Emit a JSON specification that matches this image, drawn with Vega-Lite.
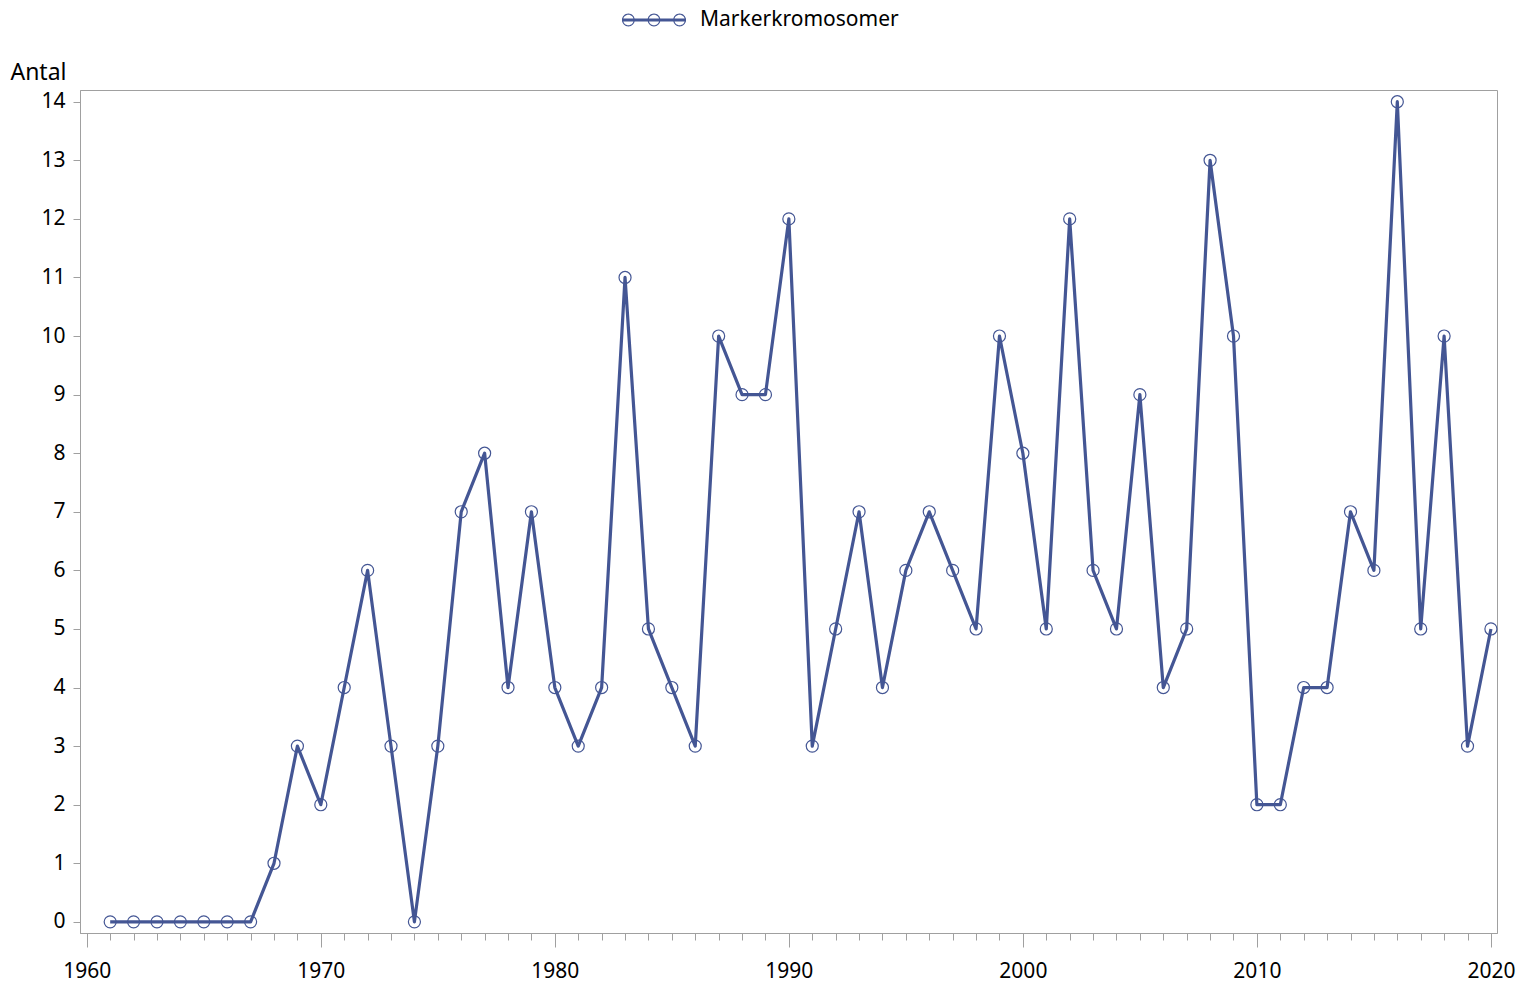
{
  "$schema": "https://vega.github.io/schema/vega-lite/v6.json",
  "width": 1417,
  "height": 843,
  "autosize": {"type": "none"},
  "padding": {"left": 80, "top": 90, "right": 34, "bottom": 51},
  "background": "white",
  "config": {
    "font": "Noto Sans",
    "view": {"stroke": "#a0a0a0", "strokeWidth": 1}
  },
  "data": {
    "values": [
      {"year": 1961, "value": 0}, {"year": 1962, "value": 0}, {"year": 1963, "value": 0},
      {"year": 1964, "value": 0}, {"year": 1965, "value": 0}, {"year": 1966, "value": 0},
      {"year": 1967, "value": 0}, {"year": 1968, "value": 1}, {"year": 1969, "value": 3},
      {"year": 1970, "value": 2}, {"year": 1971, "value": 4}, {"year": 1972, "value": 6},
      {"year": 1973, "value": 3}, {"year": 1974, "value": 0}, {"year": 1975, "value": 3},
      {"year": 1976, "value": 7}, {"year": 1977, "value": 8}, {"year": 1978, "value": 4},
      {"year": 1979, "value": 7}, {"year": 1980, "value": 4}, {"year": 1981, "value": 3},
      {"year": 1982, "value": 4}, {"year": 1983, "value": 11}, {"year": 1984, "value": 5},
      {"year": 1985, "value": 4}, {"year": 1986, "value": 3}, {"year": 1987, "value": 10},
      {"year": 1988, "value": 9}, {"year": 1989, "value": 9}, {"year": 1990, "value": 12},
      {"year": 1991, "value": 3}, {"year": 1992, "value": 5}, {"year": 1993, "value": 7},
      {"year": 1994, "value": 4}, {"year": 1995, "value": 6}, {"year": 1996, "value": 7},
      {"year": 1997, "value": 6}, {"year": 1998, "value": 5}, {"year": 1999, "value": 10},
      {"year": 2000, "value": 8}, {"year": 2001, "value": 5}, {"year": 2002, "value": 12},
      {"year": 2003, "value": 6}, {"year": 2004, "value": 5}, {"year": 2005, "value": 9},
      {"year": 2006, "value": 4}, {"year": 2007, "value": 5}, {"year": 2008, "value": 13},
      {"year": 2009, "value": 10}, {"year": 2010, "value": 2}, {"year": 2011, "value": 2},
      {"year": 2012, "value": 4}, {"year": 2013, "value": 4}, {"year": 2014, "value": 7},
      {"year": 2015, "value": 6}, {"year": 2016, "value": 14}, {"year": 2017, "value": 5},
      {"year": 2018, "value": 10}, {"year": 2019, "value": 3}, {"year": 2020, "value": 5}
    ]
  },
  "encoding": {
    "x": {
      "field": "year",
      "type": "quantitative",
      "scale": {"domain": [1959.71, 2020.26], "nice": false, "zero": false},
      "axis": {
        "title": null,
        "grid": false,
        "values": [1960,1961,1962,1963,1964,1965,1966,1967,1968,1969,1970,1971,1972,1973,1974,1975,1976,1977,1978,1979,1980,1981,1982,1983,1984,1985,1986,1987,1988,1989,1990,1991,1992,1993,1994,1995,1996,1997,1998,1999,2000,2001,2002,2003,2004,2005,2006,2007,2008,2009,2010,2011,2012,2013,2014,2015,2016,2017,2018,2019,2020],
        "format": "d",
        "labelExpr": "datum.value % 10 === 0 ? datum.label : ''",
        "labelOverlap": false,
        "labelFlush": false,
        "labelBound": false,
        "labelFontSize": 21,
        "labelColor": "black",
        "labelPadding": 13,
        "domainColor": "#a0a0a0",
        "tickColor": "#a0a0a0",
        "tickSize": {"condition": {"test": "datum.value % 10 === 0", "value": 14}, "value": 7}
      }
    },
    "y": {
      "field": "value",
      "type": "quantitative",
      "scale": {"domain": [-0.19, 14.2], "nice": false, "zero": false},
      "axis": {
        "title": "Antal",
        "titleAngle": 0,
        "titleAlign": "right",
        "titleBaseline": "alphabetic",
        "titleX": -14,
        "titleY": -11,
        "titleFontSize": 23,
        "titleFontWeight": "normal",
        "titleColor": "black",
        "grid": false,
        "values": [0,0.25,0.5,0.75,1,1.25,1.5,1.75,2,2.25,2.5,2.75,3,3.25,3.5,3.75,4,4.25,4.5,4.75,5,5.25,5.5,5.75,6,6.25,6.5,6.75,7,7.25,7.5,7.75,8,8.25,8.5,8.75,9,9.25,9.5,9.75,10,10.25,10.5,10.75,11,11.25,11.5,11.75,12,12.25,12.5,12.75,13,13.25,13.5,13.75,14],
        "format": "d",
        "labelExpr": "datum.value % 1 === 0 ? datum.label : ''",
        "labelOverlap": false,
        "labelFlush": false,
        "labelBound": false,
        "labelFontSize": 21,
        "labelColor": "black",
        "labelPadding": 8,
        "domainColor": "#a0a0a0",
        "tickColor": "#a0a0a0",
        "tickSize": {"condition": {"test": "datum.value % 1 === 0", "value": 7}, "value": 4}
      }
    }
  },
  "layer": [
    {
      "mark": {"type": "line", "strokeWidth": 3.2, "strokeJoin": "round"},
      "encoding": {
        "color": {
          "datum": "Markerkromosomer",
          "scale": {"range": ["#445694"]},
          "legend": {
            "orient": "none",
            "legendX": 542,
            "legendY": -102,
            "title": null,
            "padding": 0,
            "symbolType": "M-1,-0.047L1,-0.047L1,0.047L-1,0.047Z M-1,0A0.2,0.2,0,1,1,-0.6,0A0.2,0.2,0,1,1,-1,0Z M-0.965,0A0.165,0.165,0,1,0,-0.635,0A0.165,0.165,0,1,0,-0.965,0Z M-0.2,0A0.2,0.2,0,1,1,0.2,0A0.2,0.2,0,1,1,-0.2,0Z M-0.165,0A0.165,0.165,0,1,0,0.165,0A0.165,0.165,0,1,0,-0.165,0Z M0.6,0A0.2,0.2,0,1,1,1,0A0.2,0.2,0,1,1,0.6,0Z M0.635,0A0.165,0.165,0,1,0,0.965,0A0.165,0.165,0,1,0,0.635,0Z",
            "symbolSize": 4096,
            "labelFontSize": 21,
            "labelLimit": 0,
            "labelColor": "black",
            "labelOffset": 14,
            "encode": {
              "symbols": {
                "update": {
                  "fill": {"value": "#445694"},
                  "stroke": {"value": "transparent"},
                  "strokeWidth": {"value": 0}
                }
              }
            }
          }
        }
      }
    },
    {
      "mark": {"type": "point", "filled": false, "strokeWidth": 1.2, "size": 145, "color": "#445694", "opacity": 1}
    }
  ]
}
